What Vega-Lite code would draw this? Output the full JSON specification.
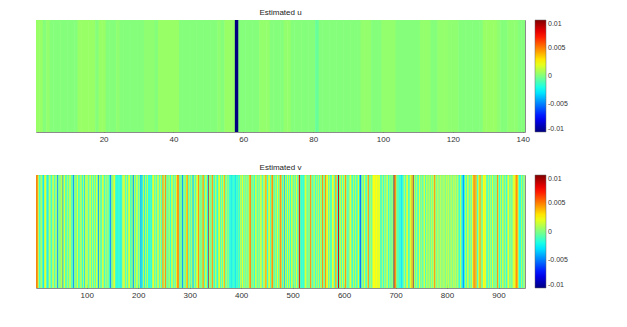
{
"$schema":"https://vega.github.io/schema/vega-lite/v6.json",
"background":"white",
"padding":{"left":35,"top":8,"right":5,"bottom":5},
"spacing":19,
"config":{"view":{"stroke":"#8c8c8c","strokeWidth":1},"font":"Liberation Sans",
"title":{"fontSize":8,"fontWeight":"normal","color":"#222","offset":3,"anchor":"middle"},
"axis":{"labelFontSize":8,"labelColor":"#333","tickColor":"#666","domain":false,"grid":false,"tickSize":-4,"labelPadding":7,"labelAngle":0,"title":null},
"legend":{"title":null,"gradientLength":112,"gradientThickness":11,"offset":10,"labelFontSize":7,"labelColor":"#333","gradientStrokeColor":"#666","gradientStrokeWidth":0.5,"labelOffset":4,"direction":"vertical"}},
"resolve":{"scale":{"color":"independent"},"legend":{"color":"independent"}},
"datasets":{
"u":[{"i":1,"v":0.0005},{"i":2,"v":0.0005},{"i":3,"v":0.0001},{"i":4,"v":0.0004},{"i":5,"v":0.0001},{"i":6,"v":0.0001},{"i":7,"v":0.0001},{"i":8,"v":0.0001},{"i":9,"v":0.0001},{"i":10,"v":0.0001},{"i":11,"v":0.0001},{"i":12,"v":0.0001},{"i":13,"v":0.0005},{"i":14,"v":0.0005},{"i":15,"v":0.0005},{"i":16,"v":0.0005},{"i":17,"v":0.0005},{"i":18,"v":0.0001},{"i":19,"v":0.0005},{"i":20,"v":0.0005},{"i":21,"v":0.0001},{"i":22,"v":0.0001},{"i":23,"v":0.0001},{"i":24,"v":0.0003},{"i":25,"v":0.0001},{"i":26,"v":0.0001},{"i":27,"v":0.0001},{"i":28,"v":0.0001},{"i":29,"v":0.0001},{"i":30,"v":0.0001},{"i":31,"v":0.0001},{"i":32,"v":0.0003},{"i":33,"v":0.0003},{"i":34,"v":0.0003},{"i":35,"v":0.0001},{"i":36,"v":0.0005},{"i":37,"v":0.0005},{"i":38,"v":0.0005},{"i":39,"v":0.0005},{"i":40,"v":0.0005},{"i":41,"v":0.0005},{"i":42,"v":0.0001},{"i":43,"v":0.0001},{"i":44,"v":0.0001},{"i":45,"v":0.0001},{"i":46,"v":0.0001},{"i":47,"v":0.0001},{"i":48,"v":0.0001},{"i":49,"v":0.0001},{"i":50,"v":0.0001},{"i":51,"v":0.0001},{"i":52,"v":0.0001},{"i":53,"v":0.0003},{"i":54,"v":0.0001},{"i":55,"v":0.0005},{"i":56,"v":0.0005},{"i":57,"v":0.0005},{"i":58,"v":-0.01},{"i":59,"v":0.0001},{"i":60,"v":0.0001},{"i":61,"v":0.0001},{"i":62,"v":0.0001},{"i":63,"v":0.0001},{"i":64,"v":0.0001},{"i":65,"v":0.0004},{"i":66,"v":0.0004},{"i":67,"v":0.0004},{"i":68,"v":0.0001},{"i":69,"v":0.0001},{"i":70,"v":0.0001},{"i":71,"v":0.0001},{"i":72,"v":0.0004},{"i":73,"v":0.0004},{"i":74,"v":0.0001},{"i":75,"v":0.0001},{"i":76,"v":0.0001},{"i":77,"v":0.0001},{"i":78,"v":0.0001},{"i":79,"v":0.0001},{"i":80,"v":0.0001},{"i":81,"v":-0.0005},{"i":82,"v":0.0001},{"i":83,"v":0.0001},{"i":84,"v":0.0001},{"i":85,"v":0.0001},{"i":86,"v":0.0001},{"i":87,"v":0.0001},{"i":88,"v":0.0001},{"i":89,"v":0.0001},{"i":90,"v":0.0001},{"i":91,"v":0.0001},{"i":92,"v":0.0001},{"i":93,"v":0.0001},{"i":94,"v":0.0004},{"i":95,"v":0.0004},{"i":96,"v":0.0004},{"i":97,"v":0.0001},{"i":98,"v":0.0001},{"i":99,"v":0.0001},{"i":100,"v":0.0004},{"i":101,"v":0.0004},{"i":102,"v":0.0004},{"i":103,"v":0.0004},{"i":104,"v":0.0001},{"i":105,"v":0.0001},{"i":106,"v":0.0001},{"i":107,"v":0.0001},{"i":108,"v":0.0001},{"i":109,"v":0.0001},{"i":110,"v":0.0001},{"i":111,"v":0.0004},{"i":112,"v":0.0004},{"i":113,"v":0.0004},{"i":114,"v":0.0001},{"i":115,"v":0.0001},{"i":116,"v":0.0004},{"i":117,"v":0.0004},{"i":118,"v":0.0004},{"i":119,"v":0.0003},{"i":120,"v":0.0003},{"i":121,"v":0.0003},{"i":122,"v":0.0001},{"i":123,"v":0.0001},{"i":124,"v":0.0001},{"i":125,"v":0.0001},{"i":126,"v":0.0001},{"i":127,"v":0.0001},{"i":128,"v":0.0001},{"i":129,"v":0.0005},{"i":130,"v":0.0005},{"i":131,"v":0.0005},{"i":132,"v":0.0005},{"i":133,"v":0.0003},{"i":134,"v":0.0001},{"i":135,"v":0.0001},{"i":136,"v":0.0003},{"i":137,"v":0.0003},{"i":138,"v":0.0003},{"i":139,"v":0.0001},{"i":140,"v":0.0001}],
"v":[{"i":1,"v":0.0048},{"i":2,"v":0.0048},{"i":3,"v":0.0048},{"i":4,"v":0.0048},{"i":5,"v":0.0012},{"i":6,"v":0.0012},{"i":7,"v":-0.0008},{"i":8,"v":-0.0018},{"i":9,"v":-0.0018},{"i":10,"v":0.0012},
{"i":11,"v":0.0012},{"i":12,"v":0.0002},{"i":13,"v":-0.0008},{"i":14,"v":-0.0018},{"i":15,"v":-0.0035},{"i":16,"v":-0.0018},{"i":17,"v":0.0012},{"i":18,"v":0.0012},{"i":19,"v":0.0025},{"i":20,"v":0.0012},
{"i":21,"v":-0.0008},{"i":22,"v":-0.0008},{"i":23,"v":-0.0018},{"i":24,"v":-0.0035},{"i":25,"v":-0.0018},{"i":26,"v":0.0012},{"i":27,"v":0.0012},{"i":28,"v":0.0012},{"i":29,"v":0.0002},{"i":30,"v":-0.0008},
{"i":31,"v":-0.0018},{"i":32,"v":-0.0018},{"i":33,"v":0.0012},{"i":34,"v":0.0025},{"i":35,"v":0.0012},{"i":36,"v":-0.0008},{"i":37,"v":-0.0018},{"i":38,"v":-0.0008},{"i":39,"v":0.0012},{"i":40,"v":0.0012},
{"i":41,"v":0.0002},{"i":42,"v":-0.0018},{"i":43,"v":-0.0055},{"i":44,"v":-0.0018},{"i":45,"v":0.0012},{"i":46,"v":0.0012},{"i":47,"v":-0.0008},{"i":48,"v":-0.0008},{"i":49,"v":0.0012},{"i":50,"v":0.0012},
{"i":51,"v":0.0012},{"i":52,"v":0.0012},{"i":53,"v":-0.0055},{"i":54,"v":-0.0018},{"i":55,"v":0.0012},{"i":56,"v":0.0025},{"i":57,"v":0.0012},{"i":58,"v":-0.0008},{"i":59,"v":-0.0018},{"i":60,"v":-0.0018},
{"i":61,"v":0.0012},{"i":62,"v":0.0012},{"i":63,"v":0.0002},{"i":64,"v":-0.0008},{"i":65,"v":-0.0018},{"i":66,"v":0.0012},{"i":67,"v":0.0025},{"i":68,"v":0.0012},{"i":69,"v":-0.0008},{"i":70,"v":-0.0018},
{"i":71,"v":0.0012},{"i":72,"v":-0.0018},{"i":73,"v":-0.0035},{"i":74,"v":-0.0055},{"i":75,"v":-0.0018},{"i":76,"v":0.0012},{"i":77,"v":0.0012},{"i":78,"v":-0.0008},{"i":79,"v":-0.0018},{"i":80,"v":0.0012},
{"i":81,"v":0.0025},{"i":82,"v":0.0012},{"i":83,"v":-0.0008},{"i":84,"v":-0.0018},{"i":85,"v":-0.0018},{"i":86,"v":0.0012},{"i":87,"v":0.0012},{"i":88,"v":0.0002},{"i":89,"v":0.0012},{"i":90,"v":-0.0008},
{"i":91,"v":-0.0018},{"i":92,"v":-0.0018},{"i":93,"v":0.0012},{"i":94,"v":0.0012},{"i":95,"v":-0.0035},{"i":96,"v":-0.0018},{"i":97,"v":0.0012},{"i":98,"v":0.0025},{"i":99,"v":0.0012},{"i":100,"v":-0.0008},
{"i":101,"v":0.0012},{"i":102,"v":0.0012},{"i":103,"v":-0.0018},{"i":104,"v":-0.0018},{"i":105,"v":0.0012},{"i":106,"v":0.0025},{"i":107,"v":0.0012},{"i":108,"v":-0.0008},{"i":109,"v":-0.0018},{"i":110,"v":0.0012},
{"i":111,"v":0.0012},{"i":112,"v":-0.0008},{"i":113,"v":-0.0018},{"i":114,"v":0.0012},{"i":115,"v":0.0012},{"i":116,"v":-0.0008},{"i":117,"v":-0.0018},{"i":118,"v":0.0012},{"i":119,"v":0.0025},{"i":120,"v":0.0012},
{"i":121,"v":-0.0018},{"i":122,"v":-0.0055},{"i":123,"v":-0.0018},{"i":124,"v":0.0012},{"i":125,"v":0.0012},{"i":126,"v":-0.0008},{"i":127,"v":-0.0008},{"i":128,"v":-0.0018},{"i":129,"v":0.0012},{"i":130,"v":0.0012},
{"i":131,"v":0.0025},{"i":132,"v":0.0012},{"i":133,"v":-0.0008},{"i":134,"v":-0.0018},{"i":135,"v":-0.0018},{"i":136,"v":0.0012},{"i":137,"v":0.0012},{"i":138,"v":-0.0008},{"i":139,"v":-0.0018},{"i":140,"v":0.0012},
{"i":141,"v":0.0012},{"i":142,"v":-0.0008},{"i":143,"v":-0.0018},{"i":144,"v":-0.0018},{"i":145,"v":-0.0035},{"i":146,"v":-0.0055},{"i":147,"v":-0.0018},{"i":148,"v":0.0012},{"i":149,"v":0.0012},{"i":150,"v":-0.0008},
{"i":151,"v":0.0012},{"i":152,"v":0.0012},{"i":153,"v":0.0025},{"i":154,"v":0.0012},{"i":155,"v":-0.0008},{"i":156,"v":-0.0018},{"i":157,"v":-0.0018},{"i":158,"v":-0.0018},{"i":159,"v":-0.0018},{"i":160,"v":-0.0018},
{"i":161,"v":-0.0018},{"i":162,"v":-0.0008},{"i":163,"v":-0.0018},{"i":164,"v":-0.0018},{"i":165,"v":-0.0018},{"i":166,"v":-0.0035},{"i":167,"v":-0.0018},{"i":168,"v":-0.0008},{"i":169,"v":0.0012},{"i":170,"v":0.0012},
{"i":171,"v":0.0012},{"i":172,"v":0.0025},{"i":173,"v":0.0012},{"i":174,"v":-0.0008},{"i":175,"v":-0.0018},{"i":176,"v":0.0012},{"i":177,"v":0.0012},{"i":178,"v":-0.0008},{"i":179,"v":-0.0018},{"i":180,"v":0.0012},
{"i":181,"v":0.0012},{"i":182,"v":0.0025},{"i":183,"v":0.0012},{"i":184,"v":-0.0018},{"i":185,"v":-0.0008},{"i":186,"v":-0.0018},{"i":187,"v":0.0012},{"i":188,"v":0.0012},{"i":189,"v":-0.0035},{"i":190,"v":-0.0055},
{"i":191,"v":-0.0018},{"i":192,"v":0.0012},{"i":193,"v":0.0012},{"i":194,"v":-0.0008},{"i":195,"v":-0.0018},{"i":196,"v":0.0012},{"i":197,"v":0.0025},{"i":198,"v":0.0012},{"i":199,"v":-0.0008},{"i":200,"v":-0.0018},
{"i":201,"v":0.0012},{"i":202,"v":0.0012},{"i":203,"v":-0.0018},{"i":204,"v":-0.0035},{"i":205,"v":-0.0055},{"i":206,"v":-0.0018},{"i":207,"v":-0.0035},{"i":208,"v":-0.0018},{"i":209,"v":0.0012},{"i":210,"v":0.0012},
{"i":211,"v":-0.0035},{"i":212,"v":-0.0018},{"i":213,"v":0.0012},{"i":214,"v":0.0012},{"i":215,"v":-0.0008},{"i":216,"v":-0.0018},{"i":217,"v":0.0012},{"i":218,"v":0.0012},{"i":219,"v":-0.0018},{"i":220,"v":-0.0018},
{"i":221,"v":-0.0018},{"i":222,"v":-0.0018},{"i":223,"v":-0.0008},{"i":224,"v":-0.0018},{"i":225,"v":-0.0018},{"i":226,"v":-0.0018},{"i":227,"v":0.0012},{"i":228,"v":0.0012},{"i":229,"v":0.0025},{"i":230,"v":0.0012},
{"i":231,"v":-0.0008},{"i":232,"v":-0.0018},{"i":233,"v":0.0012},{"i":234,"v":0.0012},{"i":235,"v":-0.0018},{"i":236,"v":-0.0008},{"i":237,"v":0.0012},{"i":238,"v":0.0025},{"i":239,"v":0.0012},{"i":240,"v":-0.0008},
{"i":241,"v":-0.0018},{"i":242,"v":0.0012},{"i":243,"v":0.0012},{"i":244,"v":-0.0008},{"i":245,"v":-0.0018},{"i":246,"v":0.0012},{"i":247,"v":0.0048},{"i":248,"v":0.0048},{"i":249,"v":0.0012},{"i":250,"v":-0.0008},
{"i":251,"v":0.0012},{"i":252,"v":0.0048},{"i":253,"v":0.0048},{"i":254,"v":0.0012},{"i":255,"v":-0.0018},{"i":256,"v":-0.0018},{"i":257,"v":0.0012},{"i":258,"v":-0.0008},{"i":259,"v":0.0012},{"i":260,"v":0.0012},
{"i":261,"v":-0.0008},{"i":262,"v":-0.0018},{"i":263,"v":-0.0018},{"i":264,"v":0.0012},{"i":265,"v":0.0025},{"i":266,"v":0.0012},{"i":267,"v":-0.0008},{"i":268,"v":-0.0018},{"i":269,"v":0.0012},{"i":270,"v":0.0012},
{"i":271,"v":-0.0018},{"i":272,"v":-0.0008},{"i":273,"v":0.0012},{"i":274,"v":0.0025},{"i":275,"v":0.0048},{"i":276,"v":0.0048},{"i":277,"v":0.0048},{"i":278,"v":0.0048},{"i":279,"v":0.0012},{"i":280,"v":-0.0018},
{"i":281,"v":-0.0018},{"i":282,"v":0.0012},{"i":283,"v":0.0012},{"i":284,"v":-0.0018},{"i":285,"v":-0.0055},{"i":286,"v":-0.0035},{"i":287,"v":-0.0018},{"i":288,"v":0.0012},{"i":289,"v":0.0012},{"i":290,"v":-0.0008},
{"i":291,"v":-0.0018},{"i":292,"v":0.0012},{"i":293,"v":0.0025},{"i":294,"v":0.0048},{"i":295,"v":0.0048},{"i":296,"v":0.0012},{"i":297,"v":-0.0008},{"i":298,"v":-0.0018},{"i":299,"v":0.0012},{"i":300,"v":0.0012},
{"i":301,"v":-0.0008},{"i":302,"v":-0.0018},{"i":303,"v":0.0012},{"i":304,"v":0.0012},{"i":305,"v":-0.0018},{"i":306,"v":-0.0055},{"i":307,"v":-0.0018},{"i":308,"v":0.0012},{"i":309,"v":0.0012},{"i":310,"v":-0.0008},
{"i":311,"v":-0.0018},{"i":312,"v":0.0012},{"i":313,"v":0.0012},{"i":314,"v":0.0025},{"i":315,"v":0.0012},{"i":316,"v":0.0048},{"i":317,"v":0.0048},{"i":318,"v":0.0012},{"i":319,"v":-0.0008},{"i":320,"v":-0.0018},
{"i":321,"v":0.0012},{"i":322,"v":0.0012},{"i":323,"v":-0.0018},{"i":324,"v":0.0012},{"i":325,"v":0.0048},{"i":326,"v":0.0048},{"i":327,"v":0.0012},{"i":328,"v":-0.0018},{"i":329,"v":-0.0008},{"i":330,"v":0.0012},
{"i":331,"v":0.0025},{"i":332,"v":0.0012},{"i":333,"v":-0.0008},{"i":334,"v":-0.0018},{"i":335,"v":-0.0035},{"i":336,"v":0.0085},{"i":337,"v":-0.0018},{"i":338,"v":0.0012},{"i":339,"v":0.0012},{"i":340,"v":-0.0008},
{"i":341,"v":-0.0018},{"i":342,"v":0.0012},{"i":343,"v":0.0048},{"i":344,"v":0.0048},{"i":345,"v":0.0012},{"i":346,"v":-0.0008},{"i":347,"v":-0.0018},{"i":348,"v":-0.0018},{"i":349,"v":0.0012},{"i":350,"v":0.0012},
{"i":351,"v":0.0012},{"i":352,"v":-0.0018},{"i":353,"v":-0.0018},{"i":354,"v":-0.0018},{"i":355,"v":0.0012},{"i":356,"v":0.0012},{"i":357,"v":0.0025},{"i":358,"v":0.0012},{"i":359,"v":-0.0008},{"i":360,"v":-0.0018},
{"i":361,"v":0.0012},{"i":362,"v":0.0012},{"i":363,"v":-0.0008},{"i":364,"v":-0.0018},{"i":365,"v":0.0012},{"i":366,"v":0.0025},{"i":367,"v":0.0048},{"i":368,"v":0.0012},{"i":369,"v":-0.0008},{"i":370,"v":-0.0018},
{"i":371,"v":0.0012},{"i":372,"v":0.0012},{"i":373,"v":-0.0008},{"i":374,"v":-0.0018},{"i":375,"v":0.0012},{"i":376,"v":-0.0018},{"i":377,"v":-0.0018},{"i":378,"v":-0.0018},{"i":379,"v":-0.0018},{"i":380,"v":-0.0035},
{"i":381,"v":-0.0018},{"i":382,"v":-0.0018},{"i":383,"v":-0.0018},{"i":384,"v":-0.0008},{"i":385,"v":-0.0018},{"i":386,"v":-0.0018},{"i":387,"v":-0.0018},{"i":388,"v":-0.0035},{"i":389,"v":-0.0018},{"i":390,"v":-0.0018},
{"i":391,"v":-0.0008},{"i":392,"v":-0.0018},{"i":393,"v":-0.0018},{"i":394,"v":-0.0018},{"i":395,"v":0.0012},{"i":396,"v":-0.0018},{"i":397,"v":-0.0018},{"i":398,"v":0.0012},{"i":399,"v":0.0012},{"i":400,"v":-0.0008},
{"i":401,"v":0.0012},{"i":402,"v":0.0025},{"i":403,"v":0.0012},{"i":404,"v":-0.0008},{"i":405,"v":-0.0018},{"i":406,"v":0.0012},{"i":407,"v":0.0012},{"i":408,"v":-0.0008},{"i":409,"v":-0.0018},{"i":410,"v":0.0012},
{"i":411,"v":0.0012},{"i":412,"v":-0.0008},{"i":413,"v":-0.0018},{"i":414,"v":0.0012},{"i":415,"v":0.0025},{"i":416,"v":0.0048},{"i":417,"v":0.0048},{"i":418,"v":0.0048},{"i":419,"v":0.0012},{"i":420,"v":-0.0018},
{"i":421,"v":-0.0018},{"i":422,"v":0.0012},{"i":423,"v":0.0012},{"i":424,"v":-0.0008},{"i":425,"v":-0.0018},{"i":426,"v":-0.0018},{"i":427,"v":0.0012},{"i":428,"v":0.0025},{"i":429,"v":0.0012},{"i":430,"v":-0.0008},
{"i":431,"v":-0.0018},{"i":432,"v":0.0012},{"i":433,"v":0.0012},{"i":434,"v":-0.0018},{"i":435,"v":-0.0008},{"i":436,"v":0.0012},{"i":437,"v":0.0012},{"i":438,"v":0.0025},{"i":439,"v":0.0012},{"i":440,"v":-0.0018},
{"i":441,"v":-0.0018},{"i":442,"v":0.0012},{"i":443,"v":0.0012},{"i":444,"v":-0.0008},{"i":445,"v":0.0012},{"i":446,"v":0.0025},{"i":447,"v":0.0048},{"i":448,"v":0.0048},{"i":449,"v":0.0012},{"i":450,"v":-0.0018},
{"i":451,"v":-0.0018},{"i":452,"v":0.0012},{"i":453,"v":0.0012},{"i":454,"v":0.0025},{"i":455,"v":0.0012},{"i":456,"v":-0.0008},{"i":457,"v":-0.0018},{"i":458,"v":0.0012},{"i":459,"v":0.0048},{"i":460,"v":0.0048},
{"i":461,"v":0.0048},{"i":462,"v":0.0012},{"i":463,"v":-0.0018},{"i":464,"v":-0.0018},{"i":465,"v":0.0012},{"i":466,"v":0.0012},{"i":467,"v":-0.0008},{"i":468,"v":-0.0018},{"i":469,"v":0.0012},{"i":470,"v":0.0025},
{"i":471,"v":0.0012},{"i":472,"v":-0.0008},{"i":473,"v":-0.0018},{"i":474,"v":0.0012},{"i":475,"v":0.0048},{"i":476,"v":0.0048},{"i":477,"v":0.0048},{"i":478,"v":0.0012},{"i":479,"v":-0.0018},{"i":480,"v":-0.0018},
{"i":481,"v":0.0012},{"i":482,"v":0.0012},{"i":483,"v":-0.0055},{"i":484,"v":-0.0018},{"i":485,"v":0.0012},{"i":486,"v":0.0012},{"i":487,"v":-0.0008},{"i":488,"v":-0.0018},{"i":489,"v":0.0025},{"i":490,"v":0.0012},
{"i":491,"v":-0.0008},{"i":492,"v":-0.0018},{"i":493,"v":0.0012},{"i":494,"v":0.0012},{"i":495,"v":-0.0018},{"i":496,"v":-0.0018},{"i":497,"v":0.0012},{"i":498,"v":0.0025},{"i":499,"v":0.0012},{"i":500,"v":-0.0008},
{"i":501,"v":-0.0018},{"i":502,"v":0.0012},{"i":503,"v":0.0012},{"i":504,"v":-0.0008},{"i":505,"v":-0.0018},{"i":506,"v":0.0012},{"i":507,"v":0.0025},{"i":508,"v":0.0012},{"i":509,"v":-0.0018},{"i":510,"v":-0.0018},
{"i":511,"v":0.0012},{"i":512,"v":0.0085},{"i":513,"v":0.0085},{"i":514,"v":0.0012},{"i":515,"v":-0.0018},{"i":516,"v":-0.0018},{"i":517,"v":-0.0018},{"i":518,"v":-0.0018},{"i":519,"v":-0.0008},{"i":520,"v":-0.0018},
{"i":521,"v":-0.0018},{"i":522,"v":-0.0018},{"i":523,"v":0.0012},{"i":524,"v":0.0012},{"i":525,"v":0.0025},{"i":526,"v":0.0012},{"i":527,"v":-0.0008},{"i":528,"v":-0.0018},{"i":529,"v":0.0012},{"i":530,"v":0.0012},
{"i":531,"v":-0.0018},{"i":532,"v":-0.0008},{"i":533,"v":0.0012},{"i":534,"v":0.0048},{"i":535,"v":0.0048},{"i":536,"v":0.0012},{"i":537,"v":-0.0018},{"i":538,"v":-0.0018},{"i":539,"v":0.0012},{"i":540,"v":-0.0008},
{"i":541,"v":0.0025},{"i":542,"v":0.0012},{"i":543,"v":-0.0018},{"i":544,"v":-0.0018},{"i":545,"v":-0.0008},{"i":546,"v":0.0012},{"i":547,"v":0.0012},{"i":548,"v":-0.0018},{"i":549,"v":0.0012},{"i":550,"v":0.0012},
{"i":551,"v":-0.0008},{"i":552,"v":-0.0018},{"i":553,"v":0.0012},{"i":554,"v":0.0012},{"i":555,"v":-0.0018},{"i":556,"v":0.0012},{"i":557,"v":0.0048},{"i":558,"v":0.0048},{"i":559,"v":0.0012},{"i":560,"v":-0.0008},
{"i":561,"v":-0.0018},{"i":562,"v":0.0012},{"i":563,"v":0.0048},{"i":564,"v":0.0048},{"i":565,"v":0.0012},{"i":566,"v":0.0025},{"i":567,"v":0.0025},{"i":568,"v":0.0012},{"i":569,"v":-0.0008},{"i":570,"v":-0.0018},
{"i":571,"v":0.0012},{"i":572,"v":0.0012},{"i":573,"v":-0.0018},{"i":574,"v":-0.0008},{"i":575,"v":-0.0018},{"i":576,"v":0.0012},{"i":577,"v":0.0025},{"i":578,"v":0.0025},{"i":579,"v":0.0012},{"i":580,"v":-0.0008},
{"i":581,"v":-0.0018},{"i":582,"v":0.0012},{"i":583,"v":0.0048},{"i":584,"v":0.0048},{"i":585,"v":0.0012},{"i":586,"v":-0.0018},{"i":587,"v":-0.0018},{"i":588,"v":0.0085},{"i":589,"v":0.0085},{"i":590,"v":0.0012},
{"i":591,"v":-0.0018},{"i":592,"v":0.0012},{"i":593,"v":0.0012},{"i":594,"v":-0.0008},{"i":595,"v":-0.0018},{"i":596,"v":0.0025},{"i":597,"v":0.0012},{"i":598,"v":-0.0008},{"i":599,"v":-0.0018},{"i":600,"v":0.0012},
{"i":601,"v":0.0012},{"i":602,"v":0.0048},{"i":603,"v":0.0048},{"i":604,"v":0.0012},{"i":605,"v":-0.0018},{"i":606,"v":-0.0018},{"i":607,"v":0.0012},{"i":608,"v":-0.0008},{"i":609,"v":-0.0018},{"i":610,"v":0.0012},
{"i":611,"v":0.0012},{"i":612,"v":0.0025},{"i":613,"v":0.0012},{"i":614,"v":-0.0008},{"i":615,"v":-0.0018},{"i":616,"v":-0.0018},{"i":617,"v":0.0012},{"i":618,"v":0.0012},{"i":619,"v":-0.0008},{"i":620,"v":-0.0018},
{"i":621,"v":0.0012},{"i":622,"v":0.0012},{"i":623,"v":-0.0018},{"i":624,"v":-0.0008},{"i":625,"v":-0.0018},{"i":626,"v":0.0012},{"i":627,"v":0.0025},{"i":628,"v":0.0012},{"i":629,"v":-0.0018},{"i":630,"v":-0.0035},
{"i":631,"v":-0.0055},{"i":632,"v":-0.0055},{"i":633,"v":-0.0018},{"i":634,"v":0.0012},{"i":635,"v":0.0012},{"i":636,"v":-0.0008},{"i":637,"v":-0.0018},{"i":638,"v":0.0012},{"i":639,"v":0.0025},{"i":640,"v":0.0012},
{"i":641,"v":-0.0008},{"i":642,"v":-0.0018},{"i":643,"v":-0.0018},{"i":644,"v":0.0012},{"i":645,"v":0.0012},{"i":646,"v":0.0048},{"i":647,"v":0.0048},{"i":648,"v":0.0012},{"i":649,"v":-0.0018},{"i":650,"v":-0.0008},
{"i":651,"v":0.0012},{"i":652,"v":0.0012},{"i":653,"v":-0.0018},{"i":654,"v":0.0012},{"i":655,"v":0.0012},{"i":656,"v":0.0025},{"i":657,"v":0.0025},{"i":658,"v":0.0025},{"i":659,"v":0.0025},{"i":660,"v":0.0012},
{"i":661,"v":0.0025},{"i":662,"v":0.0025},{"i":663,"v":0.0025},{"i":664,"v":0.0012},{"i":665,"v":0.0025},{"i":666,"v":0.0025},{"i":667,"v":0.0012},{"i":668,"v":0.0025},{"i":669,"v":0.0012},{"i":670,"v":-0.0008},
{"i":671,"v":-0.0018},{"i":672,"v":-0.0018},{"i":673,"v":0.0012},{"i":674,"v":0.0012},{"i":675,"v":-0.0008},{"i":676,"v":-0.0018},{"i":677,"v":-0.0018},{"i":678,"v":0.0012},{"i":679,"v":0.0012},{"i":680,"v":-0.0008},
{"i":681,"v":-0.0018},{"i":682,"v":0.0012},{"i":683,"v":0.0025},{"i":684,"v":0.0012},{"i":685,"v":-0.0018},{"i":686,"v":-0.0018},{"i":687,"v":-0.0008},{"i":688,"v":0.0012},{"i":689,"v":0.0012},{"i":690,"v":-0.0018},
{"i":691,"v":-0.0018},{"i":692,"v":0.0012},{"i":693,"v":0.0012},{"i":694,"v":-0.0008},{"i":695,"v":-0.0018},{"i":696,"v":0.0085},{"i":697,"v":0.0085},{"i":698,"v":0.0012},{"i":699,"v":0.0048},{"i":700,"v":0.0048},
{"i":701,"v":0.0012},{"i":702,"v":-0.0018},{"i":703,"v":-0.0018},{"i":704,"v":0.0012},{"i":705,"v":-0.0008},{"i":706,"v":-0.0018},{"i":707,"v":-0.0018},{"i":708,"v":-0.0018},{"i":709,"v":-0.0018},{"i":710,"v":-0.0018},
{"i":711,"v":-0.0035},{"i":712,"v":-0.0018},{"i":713,"v":-0.0018},{"i":714,"v":-0.0018},{"i":715,"v":-0.0008},{"i":716,"v":0.0012},{"i":717,"v":0.0012},{"i":718,"v":-0.0008},{"i":719,"v":-0.0018},{"i":720,"v":0.0012},
{"i":721,"v":0.0012},{"i":722,"v":0.0025},{"i":723,"v":0.0012},{"i":724,"v":-0.0008},{"i":725,"v":-0.0018},{"i":726,"v":-0.0018},{"i":727,"v":0.0012},{"i":728,"v":0.0012},{"i":729,"v":0.0025},{"i":730,"v":0.0012},
{"i":731,"v":0.0048},{"i":732,"v":0.0048},{"i":733,"v":0.0012},{"i":734,"v":0.0085},{"i":735,"v":-0.0018},{"i":736,"v":0.0012},{"i":737,"v":0.0012},{"i":738,"v":-0.0008},{"i":739,"v":-0.0018},{"i":740,"v":0.0012},
{"i":741,"v":0.0012},{"i":742,"v":-0.0008},{"i":743,"v":-0.0018},{"i":744,"v":-0.0018},{"i":745,"v":0.0012},{"i":746,"v":0.0025},{"i":747,"v":0.0012},{"i":748,"v":-0.0008},{"i":749,"v":-0.0018},{"i":750,"v":0.0012},
{"i":751,"v":0.0012},{"i":752,"v":-0.0018},{"i":753,"v":-0.0018},{"i":754,"v":0.0012},{"i":755,"v":0.0025},{"i":756,"v":0.0012},{"i":757,"v":-0.0008},{"i":758,"v":-0.0018},{"i":759,"v":0.0012},{"i":760,"v":0.0012},
{"i":761,"v":0.0002},{"i":762,"v":0.0002},{"i":763,"v":-0.0008},{"i":764,"v":0.0012},{"i":765,"v":0.0012},{"i":766,"v":0.0002},{"i":767,"v":-0.0008},{"i":768,"v":0.0002},{"i":769,"v":0.0012},{"i":770,"v":0.0012},
{"i":771,"v":0.0002},{"i":772,"v":-0.0008},{"i":773,"v":0.0012},{"i":774,"v":0.0012},{"i":775,"v":0.0048},{"i":776,"v":0.0048},{"i":777,"v":0.0012},{"i":778,"v":0.0002},{"i":779,"v":-0.0008},{"i":780,"v":0.0002},
{"i":781,"v":0.0012},{"i":782,"v":0.0012},{"i":783,"v":0.0002},{"i":784,"v":-0.0008},{"i":785,"v":0.0002},{"i":786,"v":0.0012},{"i":787,"v":0.0012},{"i":788,"v":0.0002},{"i":789,"v":0.0002},{"i":790,"v":-0.0008},
{"i":791,"v":0.0012},{"i":792,"v":0.0012},{"i":793,"v":0.0002},{"i":794,"v":0.0002},{"i":795,"v":0.0012},{"i":796,"v":-0.0008},{"i":797,"v":0.0002},{"i":798,"v":0.0012},{"i":799,"v":0.0012},{"i":800,"v":0.0002},
{"i":801,"v":0.0002},{"i":802,"v":0.0012},{"i":803,"v":0.0012},{"i":804,"v":0.0002},{"i":805,"v":-0.0008},{"i":806,"v":0.0002},{"i":807,"v":0.0012},{"i":808,"v":0.0012},{"i":809,"v":0.0002},{"i":810,"v":-0.0008},
{"i":811,"v":0.0012},{"i":812,"v":0.0012},{"i":813,"v":0.0002},{"i":814,"v":0.0002},{"i":815,"v":0.0012},{"i":816,"v":0.0012},{"i":817,"v":0.0002},{"i":818,"v":-0.0008},{"i":819,"v":0.0012},{"i":820,"v":0.0012},
{"i":821,"v":0.0002},{"i":822,"v":-0.0008},{"i":823,"v":-0.0018},{"i":824,"v":-0.0018},{"i":825,"v":0.0012},{"i":826,"v":0.0012},{"i":827,"v":-0.0008},{"i":828,"v":-0.0018},{"i":829,"v":-0.0018},{"i":830,"v":-0.0035},
{"i":831,"v":-0.0055},{"i":832,"v":-0.0035},{"i":833,"v":-0.0018},{"i":834,"v":-0.0018},{"i":835,"v":0.0012},{"i":836,"v":0.0012},{"i":837,"v":-0.0008},{"i":838,"v":-0.0018},{"i":839,"v":0.0012},{"i":840,"v":0.0025},
{"i":841,"v":0.0012},{"i":842,"v":-0.0008},{"i":843,"v":-0.0018},{"i":844,"v":0.0012},{"i":845,"v":0.0012},{"i":846,"v":-0.0018},{"i":847,"v":-0.0008},{"i":848,"v":0.0012},{"i":849,"v":0.0025},{"i":850,"v":0.0012},
{"i":851,"v":0.0048},{"i":852,"v":0.0048},{"i":853,"v":0.0048},{"i":854,"v":0.0012},{"i":855,"v":0.0048},{"i":856,"v":0.0048},{"i":857,"v":0.0012},{"i":858,"v":-0.0008},{"i":859,"v":-0.0018},{"i":860,"v":0.0012},
{"i":861,"v":0.0012},{"i":862,"v":0.0025},{"i":863,"v":0.0048},{"i":864,"v":0.0048},{"i":865,"v":0.0012},{"i":866,"v":0.0012},{"i":867,"v":-0.0018},{"i":868,"v":-0.0008},{"i":869,"v":0.0012},{"i":870,"v":0.0025},
{"i":871,"v":0.0025},{"i":872,"v":0.0025},{"i":873,"v":0.0012},{"i":874,"v":0.0025},{"i":875,"v":0.0012},{"i":876,"v":-0.0008},{"i":877,"v":-0.0018},{"i":878,"v":-0.0018},{"i":879,"v":0.0012},{"i":880,"v":0.0012},
{"i":881,"v":-0.0008},{"i":882,"v":-0.0018},{"i":883,"v":0.0012},{"i":884,"v":0.0012},{"i":885,"v":-0.0018},{"i":886,"v":-0.0008},{"i":887,"v":0.0012},{"i":888,"v":0.0025},{"i":889,"v":0.0012},{"i":890,"v":-0.0018},
{"i":891,"v":-0.0018},{"i":892,"v":0.0012},{"i":893,"v":0.0012},{"i":894,"v":-0.0008},{"i":895,"v":-0.0018},{"i":896,"v":0.0012},{"i":897,"v":0.0048},{"i":898,"v":0.0048},{"i":899,"v":0.0012},{"i":900,"v":-0.0008},
{"i":901,"v":-0.0018},{"i":902,"v":-0.0018},{"i":903,"v":0.0012},{"i":904,"v":0.0012},{"i":905,"v":-0.0008},{"i":906,"v":-0.0018},{"i":907,"v":0.0012},{"i":908,"v":0.0025},{"i":909,"v":0.0012},{"i":910,"v":-0.0018},
{"i":911,"v":-0.0018},{"i":912,"v":0.0012},{"i":913,"v":0.0012},{"i":914,"v":-0.0008},{"i":915,"v":-0.0018},{"i":916,"v":-0.0018},{"i":917,"v":0.0012},{"i":918,"v":0.0012},{"i":919,"v":0.0025},{"i":920,"v":0.0012},
{"i":921,"v":-0.0008},{"i":922,"v":-0.0018},{"i":923,"v":0.0012},{"i":924,"v":0.0012},{"i":925,"v":-0.0018},{"i":926,"v":-0.0008},{"i":927,"v":0.0012},{"i":928,"v":0.0025},{"i":929,"v":0.0012},{"i":930,"v":0.0012},
{"i":931,"v":0.0025},{"i":932,"v":0.0025},{"i":933,"v":0.0048},{"i":934,"v":0.0048},{"i":935,"v":0.0048},{"i":936,"v":0.0048},{"i":937,"v":0.0025},{"i":938,"v":0.0012},{"i":939,"v":-0.0018},{"i":940,"v":-0.0018},
{"i":941,"v":-0.0018},{"i":942,"v":-0.0018},{"i":943,"v":-0.0018},{"i":944,"v":0.0012},{"i":945,"v":0.0012},{"i":946,"v":-0.0018},{"i":947,"v":-0.0008},{"i":948,"v":0.0012},{"i":949,"v":-0.0018},{"i":950,"v":0.0012}]
},
"vconcat":[
{"title":"Estimated u","data":{"name":"u"},"width":489,"height":112,
"mark":{"type":"bar","width":{"band":1.15},"strokeWidth":0,"clip":true},
"encoding":{
"x":{"field":"i","type":"ordinal","scale":{"paddingInner":0,"paddingOuter":0},"axis":{"values":[20,40,60,80,100,120,140]}},
"color":{"field":"v","type":"quantitative","scale":{"domain":[-0.01,-0.0075,-0.005,-0.0025,0,0.0025,0.005,0.0075,0.01],"range":["#000080","#0000ff","#0080ff","#00ffff","#80ff80","#ffff00","#ff8000","#ff0000","#800000"],"interpolate":"rgb"},
"legend":{"values":[-0.01,-0.005,0,0.005,0.01],"labelExpr":"toString(datum.value)"}}}},
{"title":"Estimated v","data":{"name":"v"},"width":489,"height":113,
"mark":{"type":"bar","width":{"band":1.6},"strokeWidth":0,"clip":true},
"encoding":{
"x":{"field":"i","type":"ordinal","scale":{"paddingInner":0,"paddingOuter":0},"axis":{"values":[100,200,300,400,500,600,700,800,900]}},
"color":{"field":"v","type":"quantitative","scale":{"domain":[-0.01,-0.0075,-0.005,-0.0025,0,0.0025,0.005,0.0075,0.01],"range":["#000080","#0000ff","#0080ff","#00ffff","#80ff80","#ffff00","#ff8000","#ff0000","#800000"],"interpolate":"rgb"},
"legend":{"values":[-0.01,-0.005,0,0.005,0.01],"labelExpr":"toString(datum.value)","gradientLength":113}}}}
]
}
